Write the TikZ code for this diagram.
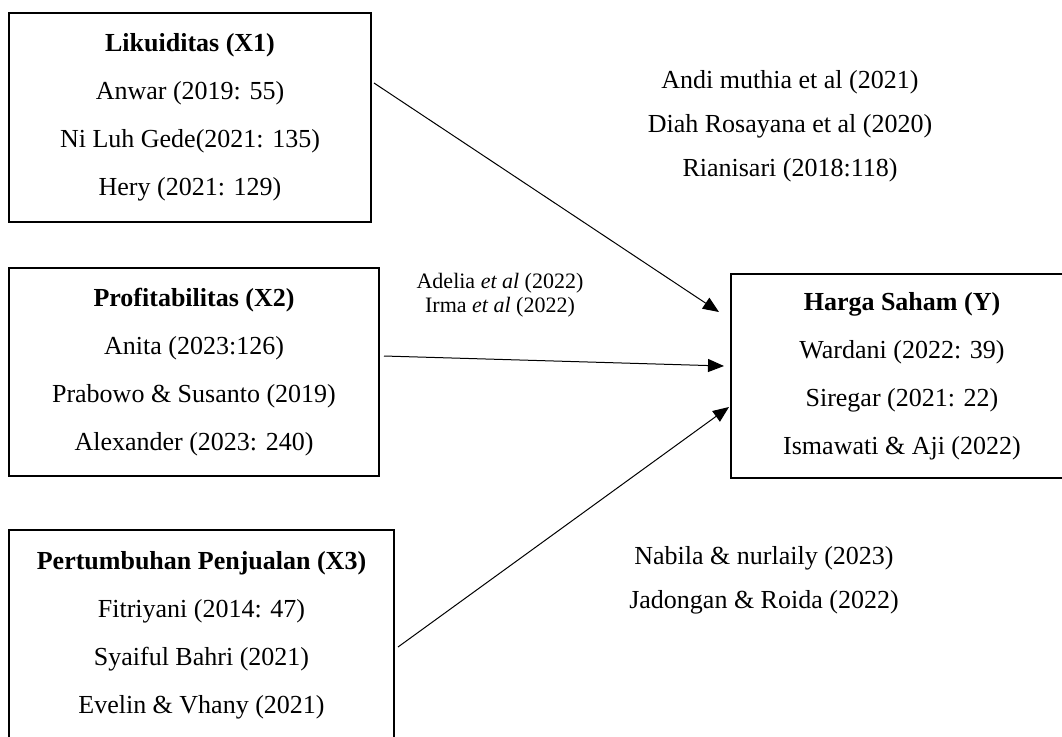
\documentclass[tikz,border=0pt]{standalone}
\usepackage{fontspec}
\setmainfont{Liberation Serif}
\usetikzlibrary{arrows.meta,positioning}
\tikzset{
  varbox/.style={draw,line width=1pt,align=center,inner sep=0pt,font=\fontsize{13}{24}\selectfont},
  reflist/.style={align=center,inner sep=0pt,font=\fontsize{13}{22}\selectfont},
  smallref/.style={align=center,inner sep=0pt,font=\fontsize{11}{12}\selectfont},
  link/.style={-{Triangle[length=8pt,width=6.5pt]},line width=0.5pt}
}

\begin{document}
\begin{tikzpicture}[x=0.5pt,y=-0.5pt]
  \useasboundingbox (0,0) rectangle (1062,736);
  % variabel bebas
  \node[varbox,minimum width=181pt,minimum height=104.5pt] (x1) at (190,117.5)
    {\textbf{Likuiditas (X1)}\\Anwar (2019: 55)\\Ni Luh Gede(2021: 135)\\Hery (2021: 129)};
  \node[varbox,minimum width=185pt,minimum height=104pt] (x2) at (194,372)
    {\textbf{Profitabilitas (X2)}\\Anita (2023:126)\\Prabowo \& Susanto (2019)\\Alexander (2023: 240)};
  \node[varbox,minimum width=192.5pt,minimum height=106pt] (x3) at (201.5,635.5)
    {\textbf{Pertumbuhan Penjualan (X3)}\\Fitriyani (2014: 47)\\Syaiful Bahri (2021)\\Evelin \& Vhany (2021)};
  % variabel terikat
  \node[varbox,minimum width=171pt,minimum height=102pt] (y) at (902,376)
    {\textbf{Harga Saham (Y)}\\Wardani (2022: 39)\\Siregar (2021: 22)\\Ismawati \& Aji (2022)};
  % rujukan
  \node[reflist] (ref1) at (790,126)
    {Andi muthia et al (2021)\\Diah Rosayana et al (2020)\\Rianisari (2018:118)};
  \node[smallref] (ref2) at (500,295)
    {Adelia \textit{et al} (2022)\\Irma \textit{et al} (2022)};
  \node[reflist] (ref3) at (764,580)
    {Nabila \& nurlaily (2023)\\Jadongan \& Roida (2022)};
  % panah
  \draw[link] ([shift={(2,-34.5)}]x1.east) -- ([shift={(-11,-64)}]y.west);
  \draw[link] ([shift={(4,-16)}]x2.east) -- ([shift={(-6,-10)}]y.west);
  \draw[link] ([shift={(3,11.5)}]x3.east) -- ([shift={(-1,31)}]y.west);
\end{tikzpicture}
\end{document}
